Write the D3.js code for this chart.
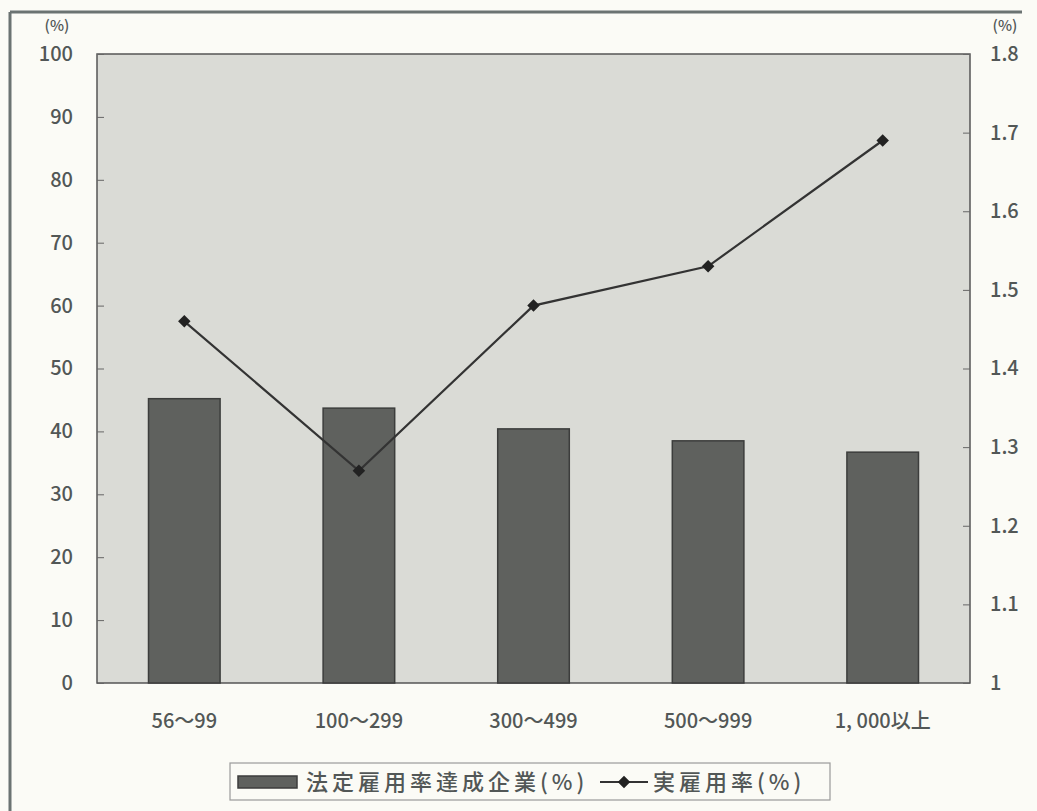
<!DOCTYPE html>
<html>
<head>
<meta charset="utf-8">
<script src="https://cdn.jsdelivr.net/npm/d3@7"></script>
<style>
  html, body { margin: 0; padding: 0; background: #fbfbf6; }
  svg { display: block; }
  text { font-family: "Noto Sans CJK JP", "Noto Sans", sans-serif; fill: #525756; font-weight: 500; }
</style>
</head>
<body>
<svg id="chart" width="1037" height="811"></svg>
<script>
// Company size classes (number of employees)
const categories = ["56～99", "100～299", "300～499", "500～999", "1, 000以上"];
// Share of companies meeting the statutory employment rate (%), left axis
const achievedShare = [45.2, 43.7, 40.4, 38.5, 36.7];
// Actual employment rate (%), right axis
const actualRate = [1.46, 1.27, 1.48, 1.53, 1.69];
// Axis tick values
const leftTicks = [0, 10, 20, 30, 40, 50, 60, 70, 80, 90, 100];
const rightTicks = [1, 1.1, 1.2, 1.3, 1.4, 1.5, 1.6, 1.7, 1.8];
const seriesNames = ["法定雇用率達成企業(%)", "実雇用率(%)"];

const svg = d3.select("#chart");
const plot = { left: 97, right: 970, top: 54, bottom: 683 };

// Page frame (left and top edges)
svg.append("line").attr("x1", 10).attr("y1", 12).attr("x2", 10).attr("y2", 811)
  .attr("stroke", "#6b7372").attr("stroke-width", 3);
svg.append("line").attr("x1", 10).attr("y1", 12).attr("x2", 1022).attr("y2", 12)
  .attr("stroke", "#6b7372").attr("stroke-width", 3);

const x = d3.scaleBand().domain(categories)
  .range([plot.left, plot.right]).paddingInner(0.59).paddingOuter(0.295);
const yL = d3.scaleLinear().domain([0, 100]).range([plot.bottom, plot.top]);
const yR = d3.scaleLinear().domain([1, 1.8]).range([plot.bottom, plot.top]);

// Plot area background
svg.append("rect")
  .attr("x", plot.left).attr("y", plot.top)
  .attr("width", plot.right - plot.left).attr("height", plot.bottom - plot.top)
  .attr("fill", "#dadbd6").attr("stroke", "#555").attr("stroke-width", 1.5);

// Bars
svg.append("g").selectAll("rect").data(achievedShare).join("rect")
  .attr("x", (d, i) => x(categories[i]))
  .attr("y", d => yL(d))
  .attr("width", x.bandwidth())
  .attr("height", d => yL(0) - yL(d))
  .attr("fill", "#5f615e").attr("stroke", "#3c3d3c").attr("stroke-width", 1.5);

// Left axis
const gL = svg.append("g").attr("transform", `translate(${plot.left},0)`)
  .call(d3.axisLeft(yL).tickValues(leftTicks).tickSize(-7).tickPadding(24).tickFormat(d3.format("d")));
gL.select(".domain").remove();
gL.selectAll(".tick line").attr("stroke", "#666");
gL.selectAll(".tick text").attr("font-size", 20).attr("fill", "#525756");

// Right axis
const gR = svg.append("g").attr("transform", `translate(${plot.right},0)`)
  .call(d3.axisRight(yR).tickValues(rightTicks).tickSize(-7).tickPadding(20)
    .tickFormat(d => d === 1 ? "1" : d3.format(".1f")(d)));
gR.select(".domain").remove();
gR.selectAll(".tick line").attr("stroke", "#666");
gR.selectAll(".tick text").attr("font-size", 20).attr("fill", "#525756");

// Unit labels
svg.append("text").attr("x", 57).attr("y", 31).attr("text-anchor", "middle")
  .attr("font-size", 15).text("(%)");
svg.append("text").attr("x", 1005).attr("y", 31).attr("text-anchor", "middle")
  .attr("font-size", 15).text("(%)");

// Category labels
svg.append("g").selectAll("text").data(categories).join("text")
  .attr("x", d => x(d) + x.bandwidth() / 2)
  .attr("y", 728)
  .attr("text-anchor", "middle")
  .attr("font-size", 20)
  .text(d => d);

// Line series
const lineGen = d3.line()
  .x((d, i) => x(categories[i]) + x.bandwidth() / 2)
  .y(d => yR(d));
svg.append("path").datum(actualRate)
  .attr("d", lineGen).attr("fill", "none")
  .attr("stroke", "#333").attr("stroke-width", 2.2);

const diamond = d3.symbol().type(d3.symbolDiamond2).size(100);
svg.append("g").selectAll("path").data(actualRate).join("path")
  .attr("transform", (d, i) => `translate(${x(categories[i]) + x.bandwidth() / 2},${yR(d)})`)
  .attr("d", diamond)
  .attr("fill", "#222");

// Legend
const lg = svg.append("g");
lg.append("rect").attr("x", 230).attr("y", 763).attr("width", 600).attr("height", 37)
  .attr("fill", "#fbfbf6").attr("stroke", "#9a9a9a").attr("stroke-width", 1.2);
lg.append("rect").attr("x", 238).attr("y", 776).attr("width", 59).attr("height", 12)
  .attr("fill", "#5f615e").attr("stroke", "#3c3d3c").attr("stroke-width", 1.5);
lg.append("text").attr("x", 306).attr("y", 790).attr("font-size", 22)
  .attr("letter-spacing", 4).attr("fill", "#3a3a3a").text(seriesNames[0]);
lg.append("line").attr("x1", 600).attr("y1", 782).attr("x2", 648).attr("y2", 782)
  .attr("stroke", "#333").attr("stroke-width", 2);
lg.append("path").attr("transform", "translate(624,782)").attr("d", diamond).attr("fill", "#222");
lg.append("text").attr("x", 653).attr("y", 790).attr("font-size", 22)
  .attr("letter-spacing", 4).attr("fill", "#3a3a3a").text(seriesNames[1]);
</script>
</body>
</html>
